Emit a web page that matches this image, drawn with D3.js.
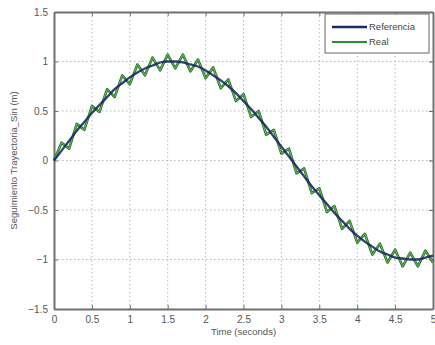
<!DOCTYPE html>
<html>
<head>
<meta charset="utf-8">
<script src="https://cdn.jsdelivr.net/npm/d3@7"></script>
<style>
  body { margin: 0; background: #fff; }
  svg { display: block; font-family: "Liberation Sans", Arial, sans-serif; }
</style>
</head>
<body>
<figure id="chart" style="margin:0"></figure>
<script>
// time samples (seconds)
const times = [0,0.1,0.2,0.3,0.4,0.5,0.6,0.7,0.8,0.9,1,1.1,1.2,1.3,1.4,1.5,1.6,1.7,1.8,1.9,2,
  2.1,2.2,2.3,2.4,2.5,2.6,2.7,2.8,2.9,3,3.1,3.2,3.3,3.4,3.5,3.6,3.7,3.8,3.9,4,
  4.1,4.2,4.3,4.4,4.5,4.6,4.7,4.8,4.9,5];

// Referencia (dark blue)
const referencia = [0.00,0.10,0.20,0.30,0.39,0.48,0.56,0.64,0.72,0.78,0.84,
  0.89,0.93,0.96,0.99,1.00,1.00,0.99,0.97,0.95,0.91,
  0.86,0.81,0.75,0.68,0.60,0.52,0.43,0.34,0.24,0.14,
  0.04,-0.06,-0.16,-0.26,-0.35,-0.44,-0.53,-0.61,-0.69,-0.76,
  -0.82,-0.87,-0.92,-0.95,-0.98,-0.99,-1.00,-1.00,-0.98,-0.96];

// Real (green, zigzag around the reference)
const real = [0.00,0.18,0.12,0.37,0.31,0.55,0.49,0.72,0.64,0.86,0.77,
  0.97,0.86,1.04,0.91,1.07,0.93,1.07,0.90,1.02,0.83,
  0.94,0.73,0.82,0.60,0.67,0.44,0.50,0.26,0.31,0.07,
  0.12,-0.13,-0.08,-0.33,-0.28,-0.52,-0.46,-0.69,-0.61,-0.83,
  -0.74,-0.95,-0.84,-1.03,-0.90,-1.07,-0.93,-1.07,-0.91,-1.03];

const xTicks = [0,0.5,1,1.5,2,2.5,3,3.5,4,4.5,5];
const yTicks = [-1.5,-1,-0.5,0,0.5,1,1.5];
const seriesNames = ["Referencia", "Real"];
const seriesColors = ["#1b2a63", "#2f8f2f"];

const W = 435, H = 345;
const margin = {top: 12, right: 2, bottom: 36, left: 54};
const width = W - margin.left - margin.right,
      height = H - margin.top - margin.bottom;

const svg = d3.select("figure#chart")
  .append("svg")
  .attr("width", W)
  .attr("height", H);

const g = svg.append("g")
  .attr("transform", "translate(" + margin.left + "," + margin.top + ")");

const x = d3.scaleLinear().domain([0, 5]).range([0, width]);
const y = d3.scaleLinear().domain([-1.5, 1.5]).range([height, 0]);

// dotted grid
g.append("g").selectAll("line")
  .data(xTicks.slice(1, -1))
  .join("line")
  .attr("x1", d => x(d)).attr("x2", d => x(d))
  .attr("y1", 0).attr("y2", height)
  .attr("stroke", "#b8b8b8").attr("stroke-width", 1)
  .attr("stroke-dasharray", "1.5,2.5");
g.append("g").selectAll("line")
  .data(yTicks.slice(1, -1))
  .join("line")
  .attr("y1", d => y(d)).attr("y2", d => y(d))
  .attr("x1", 0).attr("x2", width)
  .attr("stroke", "#b8b8b8").attr("stroke-width", 1)
  .attr("stroke-dasharray", "1.5,2.5");

// axes (inward ticks, matlab style)
const axisColor = "#707070";
const xAxis = g.append("g")
  .attr("transform", `translate(0,${height})`)
  .call(d3.axisBottom(x).tickValues(xTicks).tickSizeInner(-4).tickSizeOuter(0).tickPadding(8).tickFormat(d3.format("~g")));
const xTop = g.append("g")
  .call(d3.axisTop(x).tickValues(xTicks).tickSizeInner(-4).tickSizeOuter(0).tickFormat(""));
const yAxis = g.append("g")
  .call(d3.axisLeft(y).tickValues(yTicks).tickSizeInner(-4).tickSizeOuter(0).tickPadding(6).tickFormat(d3.format("~g")));
const yRight = g.append("g")
  .attr("transform", `translate(${width},0)`)
  .call(d3.axisRight(y).tickValues(yTicks).tickSizeInner(-4).tickSizeOuter(0).tickFormat(""));

[xAxis, xTop, yAxis, yRight].forEach(a => {
  a.select(".domain").attr("stroke", axisColor).attr("stroke-width", 2);
  a.selectAll(".tick line").attr("stroke", axisColor);
  a.selectAll("text").attr("fill", "#555").style("font-size", "10px");
});
xAxis.selectAll("text").attr("dy", "0.6em");

// lines
const realLine = d3.line()
  .x((d, i) => x(times[i]))
  .y(d => y(d));

// green drawn as dark edge + lighter core, like the blurry original
g.append("path")
  .datum(real)
  .attr("d", realLine)
  .attr("fill", "none")
  .attr("stroke", "#2c6e2c")
  .attr("stroke-width", 2.6)
  .attr("stroke-linejoin", "round");
g.append("path")
  .datum(real)
  .attr("d", realLine)
  .attr("fill", "none")
  .attr("stroke", "#6cbf5c")
  .attr("stroke-width", 1)
  .attr("stroke-linejoin", "round");

g.append("path")
  .datum(referencia)
  .attr("d", d3.line().x((d, i) => x(times[i])).y(d => y(d)).curve(d3.curveMonotoneX))
  .attr("fill", "none")
  .attr("stroke", seriesColors[0])
  .attr("stroke-opacity", 0.9)
  .attr("stroke-width", 2.3);

// legend
const leg = svg.append("g").attr("transform", "translate(325,14)");
leg.append("rect")
  .attr("width", 104).attr("height", 39)
  .attr("fill", "#fff").attr("stroke", "#666").attr("stroke-width", 1);
seriesNames.forEach((name, i) => {
  leg.append("line")
    .attr("x1", 7).attr("x2", 42)
    .attr("y1", 13 + i * 15).attr("y2", 13 + i * 15)
    .attr("stroke", seriesColors[i]).attr("stroke-width", i === 0 ? 2.5 : 2);
  leg.append("text")
    .attr("x", 44).attr("y", 13 + i * 15)
    .attr("dy", "0.35em")
    .attr("fill", "#444")
    .style("font-size", "9.5px")
    .text(name);
});

// axis labels
svg.append("text")
  .attr("x", margin.left + width / 2)
  .attr("y", 335)
  .attr("text-anchor", "middle")
  .attr("fill", "#555")
  .style("font-size", "9.5px")
  .text("Time (seconds)");

svg.append("text")
  .attr("transform", `translate(17,${margin.top + height / 2}) rotate(-90)`)
  .attr("text-anchor", "middle")
  .attr("fill", "#555")
  .style("font-size", "9.5px")
  .text("Seguimiento Trayectoria_Sin (m)");
</script>
</body>
</html>
